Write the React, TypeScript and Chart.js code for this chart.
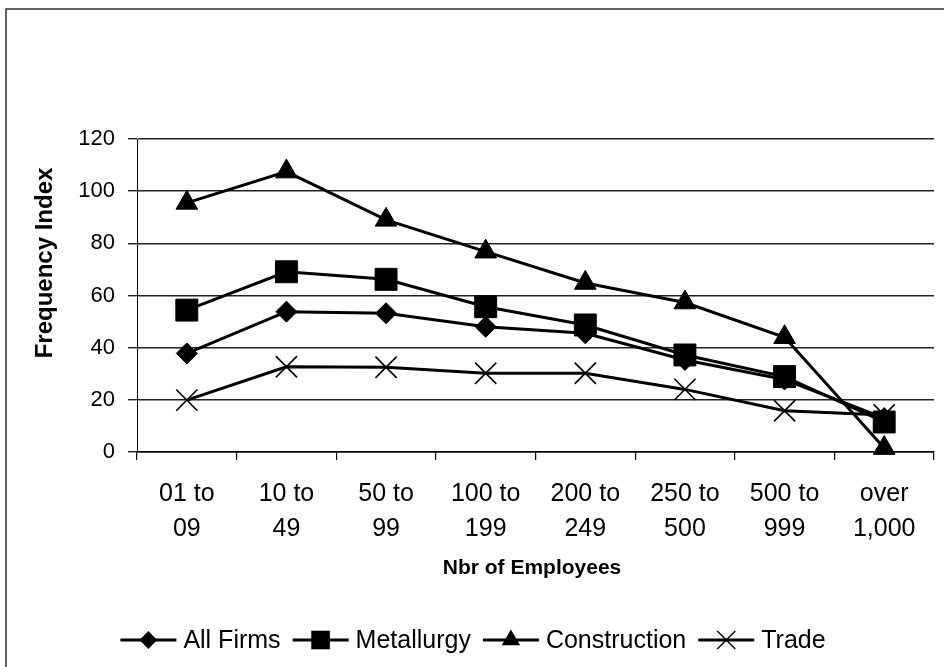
import React, { useEffect, useRef } from "react";
import { Chart, registerables } from "chart.js";

Chart.register(...registerables);

const categories: string[][] = [
  ["01 to", "09"],
  ["10 to", "49"],
  ["50 to", "99"],
  ["100 to", "199"],
  ["200 to", "249"],
  ["250 to", "500"],
  ["500 to", "999"],
  ["over", "1,000"],
];

const allFirms = [37.8, 53.8, 53.2, 48, 45.5, 35.3, 27.8, 13];
const metallurgy = [54.4, 69.1, 66.2, 55.7, 48.7, 37.2, 28.9, 11.5];
const construction = [95.5, 107.5, 89, 76.8, 64.8, 57.3, 44, 1.5];
const trade = [19.9, 32.7, 32.5, 30.2, 30.2, 24, 15.8, 14.2];

const seriesNames = ["All Firms", "Metallurgy", "Construction", "Trade"];

const yMin = 0;
const yMax = 120;
const yStep = 20;

const yTitle = "Frequency Index";
const xTitle = "Nbr of Employees";

const FONT = '"Liberation Sans", Arial, Helvetica, sans-serif';

type MarkerStyle = { pointStyle: string; radius: number; borderWidth: number };

const markerStyles: MarkerStyle[] = [
  { pointStyle: "rectRot", radius: 10.5, borderWidth: 1 },
  { pointStyle: "rect", radius: 15.5, borderWidth: 1 },
  { pointStyle: "triangle", radius: 12.5, borderWidth: 1 },
  { pointStyle: "crossRot", radius: 15, borderWidth: 1.6 },
];

function drawMarker(ctx: CanvasRenderingContext2D, style: string, x: number, y: number, r: number) {
  ctx.save();
  ctx.fillStyle = "#000";
  ctx.strokeStyle = "#000";
  ctx.beginPath();
  if (style === "rectRot") {
    ctx.moveTo(x, y - r);
    ctx.lineTo(x + r, y);
    ctx.lineTo(x, y + r);
    ctx.lineTo(x - r, y);
    ctx.closePath();
    ctx.fill();
  } else if (style === "rect") {
    const s = Math.SQRT1_2 * r;
    ctx.rect(x - s, y - s, 2 * s, 2 * s);
    ctx.fill();
  } else if (style === "triangle") {
    for (let i = 0; i < 3; i++) {
      const a = (i * 2 * Math.PI) / 3;
      const px = x + Math.sin(a) * r;
      const py = y - Math.cos(a) * r;
      if (i === 0) ctx.moveTo(px, py);
      else ctx.lineTo(px, py);
    }
    ctx.closePath();
    ctx.fill();
  } else {
    const o = Math.SQRT1_2 * r;
    ctx.lineWidth = 1.4;
    ctx.moveTo(x - o, y - o);
    ctx.lineTo(x + o, y + o);
    ctx.moveTo(x + o, y - o);
    ctx.lineTo(x - o, y + o);
    ctx.stroke();
  }
  ctx.restore();
}

const decorPlugin = {
  id: "decor",
  beforeDraw(chart: any) {
    const ctx: CanvasRenderingContext2D = chart.ctx;
    ctx.save();
    ctx.fillStyle = "#fff";
    ctx.fillRect(0, 0, chart.width, chart.height);
    ctx.strokeStyle = "#333";
    ctx.lineWidth = 1.5;
    ctx.beginPath();
    ctx.moveTo(6, chart.height);
    ctx.lineTo(6, 9);
    ctx.lineTo(chart.width, 9);
    ctx.stroke();
    ctx.restore();
  },
  afterDraw(chart: any) {
    const ctx: CanvasRenderingContext2D = chart.ctx;
    ctx.save();
    ctx.fillStyle = "#000";
    // y title
    ctx.font = `bold 24px ${FONT}`;
    ctx.textAlign = "center";
    ctx.textBaseline = "middle";
    ctx.save();
    ctx.translate(45, 263);
    ctx.rotate(-Math.PI / 2);
    ctx.fillText(yTitle, 0, 0);
    ctx.restore();
    // x title
    ctx.font = `bold 21px ${FONT}`;
    ctx.fillText(xTitle, 532, 568);

    // legend
    ctx.font = `25px ${FONT}`;
    const symW = 56;
    const gapText = 7;
    const gapItem = 12;
    const widths = seriesNames.map((n) => ctx.measureText(n).width);
    const total =
      widths.reduce((a, b) => a + b, 0) + seriesNames.length * (symW + gapText) + (seriesNames.length - 1) * gapItem;
    let x = 473 - total / 2;
    const y = 640;
    ctx.textAlign = "left";
    seriesNames.forEach((name, i) => {
      ctx.strokeStyle = "#000";
      ctx.lineWidth = 3;
      ctx.beginPath();
      ctx.moveTo(x, y);
      ctx.lineTo(x + symW, y);
      ctx.stroke();
      const m = markerStyles[i];
      drawMarker(ctx, m.pointStyle, x + symW / 2, y, m.radius * 0.85);
      x += symW + gapText;
      ctx.fillStyle = "#000";
      ctx.fillText(name, x, y + 1);
      x += widths[i] + gapItem;
    });
    ctx.restore();
  },
};

export default function App() {
  const ref = useRef<HTMLCanvasElement>(null);

  useEffect(() => {
    document.body.style.margin = "0";
    const canvas = ref.current;
    if (!canvas) return;
    const seriesData = [allFirms, metallurgy, construction, trade];
    const datasets = seriesData.map((d, i) => ({
      label: seriesNames[i],
      data: d,
      borderColor: "#000",
      backgroundColor: "#000",
      borderWidth: 3,
      pointStyle: markerStyles[i].pointStyle as any,
      pointRadius: markerStyles[i].radius,
      pointBorderWidth: markerStyles[i].borderWidth,
      pointBackgroundColor: "#000",
      pointBorderColor: "#000",
      tension: 0,
      clip: false as any,
    }));

    const chart = new Chart(canvas, {
      type: "line",
      data: { labels: categories, datasets },
      options: {
        responsive: false,
        animation: false,
        events: [],
        layout: { autoPadding: false, padding: { top: 139, right: 10, left: 0, bottom: 0 } },
        plugins: {
          legend: { display: false },
          tooltip: { enabled: false },
          title: { display: false },
        },
        scales: {
          x: {
            type: "category",
            offset: true,
            grid: {
              offset: true,
              drawOnChartArea: false,
              drawTicks: true,
              tickLength: 8,
              color: "#000",
              lineWidth: 1.2,
            },
            border: { display: true, color: "#000", width: 1.5 },
            ticks: {
              color: "#000",
              font: { family: FONT, size: 25, lineHeight: 1.4 },
              padding: 17,
              maxRotation: 0,
              autoSkip: false,
            },
            afterFit: (scale: any) => {
              scale.height = 215;
              scale.paddingLeft = 0;
              scale.paddingRight = 0;
            },
          },
          y: {
            min: yMin,
            max: yMax,
            grid: {
              color: "#222",
              lineWidth: 1.4,
              tickLength: 9,
              drawTicks: true,
            },
            border: { display: true, color: "#000", width: 1 },
            ticks: {
              stepSize: yStep,
              color: "#000",
              font: { family: FONT, size: 22 },
              padding: 13,
            },
            afterFit: (scale: any) => {
              scale.width = 137;
              scale.paddingTop = 0;
              scale.paddingBottom = 0;
            },
          },
        },
      },
      plugins: [decorPlugin],
    });

    return () => {
      chart.destroy();
    };
  }, []);

  return (
    <div style={{ width: 944, height: 667 }}>
      <canvas ref={ref} width={944} height={667} style={{ display: "block" }} />
    </div>
  );
}
